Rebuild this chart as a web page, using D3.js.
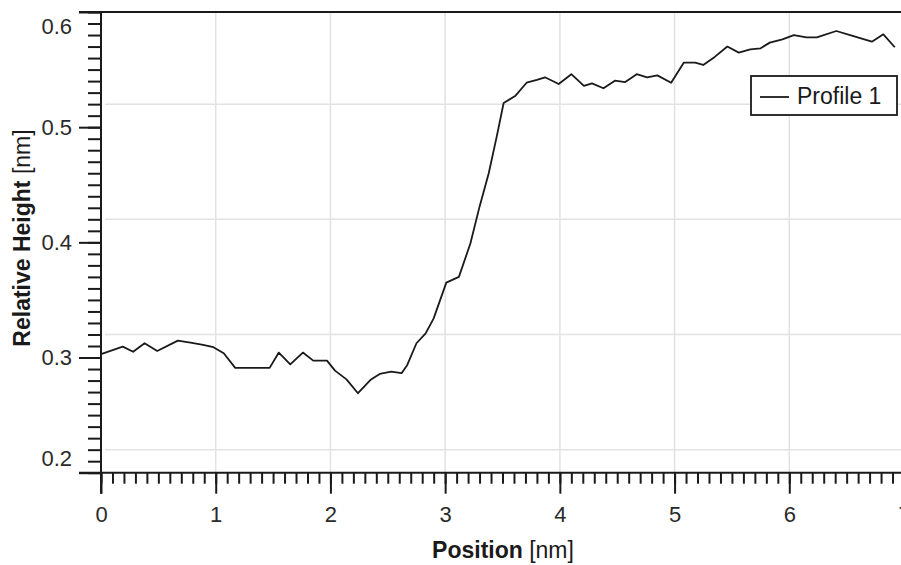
<!DOCTYPE html>
<html>
<head>
<meta charset="utf-8">
<script src="https://cdn.jsdelivr.net/npm/d3@7"></script>
<style>
  body { margin: 0; background: #fff; }
  svg { display: block; font-family: "Liberation Sans", Arial, sans-serif; }
</style>
</head>
<body>
<svg id="chart" width="901" height="565"></svg>
<script>
// profile data
var positions = [0, 0.19, 0.28, 0.38, 0.49, 0.67, 0.78, 0.89, 0.98, 1.07, 1.17, 1.47, 1.55, 1.65, 1.76, 1.85,
  1.97, 2.04, 2.14, 2.24, 2.35, 2.43, 2.53, 2.62, 2.67, 2.75, 2.83, 2.90, 3.01, 3.12, 3.22, 3.30, 3.38, 3.45,
  3.51, 3.61, 3.71, 3.80, 3.87, 3.99, 4.10, 4.21, 4.28, 4.38, 4.48, 4.57, 4.67, 4.76, 4.85, 4.97, 5.08, 5.18,
  5.25, 5.35, 5.46, 5.56, 5.66, 5.75, 5.83, 5.94, 6.04, 6.15, 6.24, 6.41, 6.53, 6.72, 6.82, 6.92];
var heights = [0.303, 0.3095, 0.305, 0.3124, 0.3057, 0.3147, 0.313, 0.311, 0.309, 0.3037, 0.291, 0.291, 0.3043,
  0.294, 0.3043, 0.2973, 0.2973, 0.2886, 0.281, 0.269, 0.2806, 0.2858, 0.2878, 0.2864, 0.2936, 0.3124, 0.321,
  0.334, 0.365, 0.370, 0.399, 0.431, 0.460, 0.492, 0.521, 0.527, 0.5386, 0.541, 0.5433, 0.5375, 0.546, 0.5358,
  0.538, 0.5338, 0.5404, 0.5392, 0.546, 0.5433, 0.545, 0.5386, 0.556, 0.556, 0.554, 0.561, 0.570, 0.5647,
  0.5676, 0.5685, 0.5734, 0.5763, 0.580, 0.578, 0.578, 0.5835, 0.580, 0.5742, 0.5806, 0.5694];

var xTicks = [0, 1, 2, 3, 4, 5, 6, 7];
var yTicks = [0.2, 0.3, 0.4, 0.5, 0.6];
var xGrid = [1, 2, 3, 4, 5, 6, 7];
var yGrid = [0.22, 0.32, 0.42, 0.52];
var seriesName = 'Profile 1';

var svg = d3.select('#chart');
var W = 901, H = 565;
var x = d3.scaleLinear().domain([0, 7]).range([101, 904]);
var y = d3.scaleLinear().domain([0.2, 0.6]).range([472.7, 12]);

var ink = '#1a1a1a';

// grid
svg.append('g').selectAll('line').data(xGrid).join('line')
  .attr('x1', d => x(d)).attr('x2', d => x(d))
  .attr('y1', y(0.6)).attr('y2', y(0.2))
  .attr('stroke', '#e2e2e2').attr('stroke-width', 1.5);
svg.append('g').selectAll('line').data(yGrid).join('line')
  .attr('x1', x(0) + 4).attr('x2', W)
  .attr('y1', d => y(d)).attr('y2', d => y(d))
  .attr('stroke', '#e2e2e2').attr('stroke-width', 1.5);

// minor ticks
var xMinor = d3.range(0, 71).map(i => i / 10);
var yMinor = d3.range(20, 61).map(i => i / 100);

var xMinorAxis = d3.axisBottom(x).tickValues(xMinor).tickSize(11).tickFormat('');
var yMinorAxis = d3.axisLeft(y).tickValues(yMinor).tickSize(13).tickFormat('');
var xMajorAxis = d3.axisBottom(x).tickValues(xTicks).tickSize(21).tickPadding(13).tickFormat(d3.format('d'));
var yMajorAxis = d3.axisLeft(y).tickValues(yTicks).tickSize(22).tickPadding(7).tickFormat(d3.format('.1f'));

function styleAxis(g){
  g.select('.domain').remove();
  g.selectAll('line').attr('stroke', ink).attr('stroke-width', 2);
  g.selectAll('text').attr('fill', '#2a2a2a').attr('font-size', 22).attr('font-family', '"Liberation Sans", Arial, sans-serif');
}

svg.append('g').attr('transform', 'translate(0,' + y(0.2) + ')').call(xMinorAxis).call(styleAxis);
svg.append('g').attr('transform', 'translate(' + x(0) + ',0)').call(yMinorAxis).call(styleAxis);
var gx = svg.append('g').attr('transform', 'translate(0,' + y(0.2) + ')').call(xMajorAxis).call(styleAxis);
var gy = svg.append('g').attr('transform', 'translate(' + x(0) + ',0)').call(yMajorAxis).call(styleAxis);

// end labels are pulled inside the axis span
gy.selectAll('.tick').filter(d => d === 0.6).select('text').attr('y', 14);
gy.selectAll('.tick').filter(d => d === 0.2).select('text').attr('y', -14);

// frame lines: x axis and top border
svg.append('line').attr('x1', x(0) - 22).attr('x2', W).attr('y1', y(0.2)).attr('y2', y(0.2))
  .attr('stroke', ink).attr('stroke-width', 2);
svg.append('line').attr('x1', x(0) - 22).attr('x2', W).attr('y1', y(0.6)).attr('y2', y(0.6))
  .attr('stroke', ink).attr('stroke-width', 2);
svg.append('line').attr('x1', x(0)).attr('x2', x(0)).attr('y1', y(0.6)).attr('y2', y(0.2) + 21)
  .attr('stroke', ink).attr('stroke-width', 2);

// profile
var line = d3.line().x((d, i) => x(positions[i])).y(d => y(d));
svg.append('path').datum(heights)
  .attr('d', line)
  .attr('fill', 'none')
  .attr('stroke', ink)
  .attr('stroke-width', 1.8)
  .attr('stroke-linejoin', 'round');

// legend
var lg = svg.append('g');
lg.append('rect').attr('x', 751).attr('y', 76).attr('width', 146).attr('height', 39)
  .attr('fill', '#fff').attr('stroke', ink).attr('stroke-width', 1.8);
lg.append('line').attr('x1', 760).attr('x2', 789).attr('y1', 97).attr('y2', 97)
  .attr('stroke', ink).attr('stroke-width', 1.8);
lg.append('text').attr('x', 797).attr('y', 104).attr('font-size', 23).attr('fill', '#1a1a1a').text(seriesName);

// axis titles
var xt = svg.append('text').attr('x', 503).attr('y', 558).attr('text-anchor', 'middle')
  .attr('font-size', 23).attr('fill', '#1a1a1a');
xt.append('tspan').attr('font-weight', 'bold').text('Position');
xt.append('tspan').text(' [nm]');

var yt = svg.append('text').attr('transform', 'translate(30,238) rotate(-90)').attr('text-anchor', 'middle')
  .attr('font-size', 23).attr('fill', '#1a1a1a');
yt.append('tspan').attr('font-weight', 'bold').text('Relative Height');
yt.append('tspan').text(' [nm]');
</script>
</body>
</html>
